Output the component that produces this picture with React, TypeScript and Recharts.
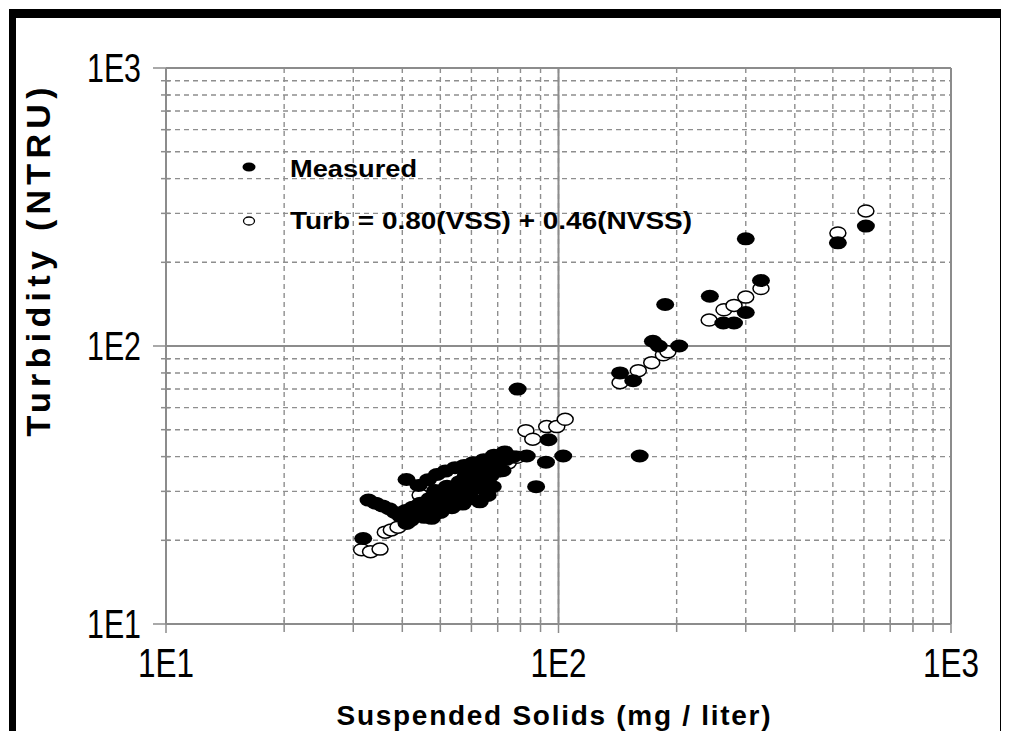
import React from 'react';
import { ScatterChart, Scatter, XAxis, YAxis, CartesianGrid, ReferenceLine, Legend } from 'recharts';

// measured turbidity vs suspended solids
const measuredSS = [
  31.8, 32.8, 34.2, 35.6, 37.0, 38.3, 39.6, 41.0, 40.8, 42.0, 42.5, 43.5, 44.5, 45.5, 46.0, 47.0,
  48.0, 48.5, 49.5, 50.5, 51.0, 52.0, 53.0, 54.0, 55.0, 56.0, 57.0, 58.0, 59.0, 60.0, 61.0, 62.0,
  63.0, 64.0, 65.0, 66.0, 67.0, 68.0, 69.0, 70.5, 72.0, 73.5, 76.6,
  44.0, 46.5, 49.0, 51.5, 54.5, 57.5, 60.5, 64.5, 68.5, 72.9,
  41.0, 47.5, 50.0, 53.5, 57.0, 60.0, 66.0,
  78.7, 83.0, 87.7, 92.9, 94.3,
  102.8, 143.5, 155, 161, 174, 180, 187, 203, 243, 263, 280, 300, 300, 328, 515, 607,
];
const measuredTurb = [
  20.3, 27.9, 27.2, 26.6, 26.0, 25.2, 24.4, 33.1, 25.6, 23.6, 26.3, 25.0, 27.2, 24.2, 26.6, 28.3,
  25.8, 30.2, 27.4, 29.2, 26.4, 31.3, 28.6, 30.4, 27.9, 32.5, 29.5, 34.0, 31.0, 33.2, 35.4, 30.8,
  27.5, 34.5, 32.6, 36.4, 34.0, 31.2, 36.8, 38.3, 35.6, 39.1, 40.0,
  31.5, 33.0, 34.5, 35.5, 36.5, 37.2, 38.0, 39.0, 40.5, 41.6,
  23.0, 24.0, 25.2, 26.2, 27.0, 28.3, 29.0,
  70.0, 40.2, 31.2, 38.2, 46.0,
  40.2, 80.0, 75.0, 40.2, 104, 100, 141, 100, 151, 121, 121, 243, 132, 172, 235, 270,
];

// Turb = 0.80(VSS) + 0.46(NVSS)
const modelSS = [
  31.5, 33.2, 35.1, 36.2, 37.5, 39.0, 44.4, 46.0, 49.0, 53.0, 57.0, 61.0, 65.0, 70.0, 74.5, 78.3,
  82.6, 86.0, 93.3, 99.0, 104, 143.5, 159.7, 172.8, 185, 190, 242, 264, 280, 300, 328, 515, 607,
];
const modelTurb = [
  18.5, 18.2, 18.6, 21.4, 21.8, 22.3, 29.1, 25.2, 27.6, 29.0, 30.5, 32.0, 33.5, 35.5, 38.0, 39.8,
  49.6, 46.2, 51.3, 51.3, 54.5, 73.8, 81.5, 87.1, 93.0, 95.3, 124, 135, 140, 150, 161, 255, 306,
];

const decades = [10, 100, 1000];
const decadeLabels = ['1E1', '1E2', '1E3'];
const logTicks = [
  10, 20, 30, 40, 50, 60, 70, 80, 90,
  100, 200, 300, 400, 500, 600, 700, 800, 900, 1000,
];

const measuredName = 'Measured';
const modelName = 'Turb = 0.80(VSS) + 0.46(NVSS)';

const measured = measuredSS.map((ss, i) => ({ ss, turb: measuredTurb[i] }));
const model = modelSS.map((ss, i) => ({ ss, turb: modelTurb[i] }));

const FONT = '"Liberation Sans", Arial, sans-serif';
const GRID = '#8e8e8e';
const AXIS = '#8c8c8c';

const FilledDot = (p: any) => <ellipse cx={p.cx} cy={p.cy} rx={9} ry={6.5} fill="#000" />;
const OpenDot = (p: any) => (
  <ellipse cx={p.cx} cy={p.cy} rx={8} ry={6} fill="#fff" stroke="#000" strokeWidth={1.5} />
);

const XTick = ({ x, y, payload }: any) => {
  const i = decades.indexOf(payload.value);
  const major = i >= 0;
  return (
    <g>
      <line x1={x} x2={x} y1={major ? y : y - 4} y2={y + (major ? 9 : 8)} stroke={AXIS} strokeWidth={1.5} />
      {major && (
        <text x={x} y={y + 53} textAnchor="middle" fontFamily={FONT} fontSize={40} fill="#000"
          textLength={56} lengthAdjust="spacingAndGlyphs">
          {decadeLabels[i]}
        </text>
      )}
    </g>
  );
};

const YTick = ({ x, y, payload }: any) => {
  const i = decades.indexOf(payload.value);
  const major = i >= 0;
  return (
    <g>
      <line x1={x - (major ? 13 : 5)} x2={major ? x : x + 4} y1={y} y2={y} stroke={AXIS} strokeWidth={1.5} />
      {major && (
        <text x={x - 25} y={y + 14} textAnchor="end" fontFamily={FONT} fontSize={40} fill="#000"
          textLength={54} lengthAdjust="spacingAndGlyphs">
          {decadeLabels[i]}
        </text>
      )}
    </g>
  );
};

const XTitle = ({ viewBox }: any) => (
  <text x={viewBox.x + viewBox.width / 2 - 5} y={viewBox.y + 101} textAnchor="middle"
    fontFamily={FONT} fontWeight="bold" fontSize={28} fill="#000" textLength={434} lengthAdjust="spacing">
    Suspended Solids (mg / liter)
  </text>
);

const YTitle = ({ viewBox }: any) => {
  const cx = viewBox.x - 16;
  const cy = viewBox.y + 194;
  return (
    <text x={cx} y={cy} transform={`rotate(-90 ${cx} ${cy})`} textAnchor="middle"
      fontFamily={FONT} fontWeight="bold" fontSize={34} fill="#000" textLength={349} lengthAdjust="spacing">
      Turbidity (NTRU)
    </text>
  );
};

const LegendBox = () => (
  <svg width={520} height={100}>
    <ellipse cx={20} cy={18} rx={6.5} ry={4.5} fill="#000" />
    <text x={61} y={28} fontFamily={FONT} fontWeight="bold" fontSize={23} fill="#000"
      textLength={127} lengthAdjust="spacingAndGlyphs">
      {measuredName}
    </text>
    <ellipse cx={20} cy={72} rx={5.5} ry={4} fill="#fff" stroke="#000" strokeWidth={1.3} />
    <text x={61} y={80} fontFamily={FONT} fontWeight="bold" fontSize={23} fill="#000"
      textLength={402} lengthAdjust="spacingAndGlyphs">
      {modelName}
    </text>
  </svg>
);

export default function App() {
  return (
    <div
      style={{
        position: 'relative', left: 1, top: 1, width: 1000, height: 723, boxSizing: 'border-box',
        borderTop: '9px solid #000', borderLeft: '7px solid #000', borderRight: '9px solid #000',
        background: '#fff',
      }}
    >
      <div style={{ position: 'absolute', left: -7, top: -9 }}>
        <ScatterChart width={1000} height={731} margin={{ top: 59, right: 58, bottom: 36, left: 57 }}>
          <CartesianGrid stroke={GRID} strokeDasharray="5 4" strokeWidth={1.4} />
          <XAxis type="number" dataKey="ss" scale="log" domain={[10, 1000]} allowDataOverflow
            ticks={logTicks} interval={0} tickSize={0} tickMargin={0} axisLine={false}
            tick={XTick} height={80} label={XTitle} />
          <YAxis type="number" dataKey="turb" scale="log" domain={[10, 1000]} allowDataOverflow
            ticks={logTicks} interval={0} tickSize={0} tickMargin={0} axisLine={false}
            tick={YTick} width={100} label={YTitle} />
          <ReferenceLine x={100} stroke={AXIS} strokeWidth={2} />
          <ReferenceLine y={100} stroke={AXIS} strokeWidth={2} />
          <ReferenceLine x={10} stroke={AXIS} strokeWidth={2} />
          <ReferenceLine x={1000} stroke={AXIS} strokeWidth={2} />
          <ReferenceLine y={10} stroke={AXIS} strokeWidth={2} />
          <ReferenceLine y={1000} stroke={AXIS} strokeWidth={2} />
          <Legend verticalAlign="middle" align="center" layout="horizontal"
            wrapperStyle={{ left: 220, top: 140, width: 520, height: 100 }} content={LegendBox} />
          <Scatter name={modelName} data={model} shape={OpenDot} isAnimationActive={false} />
          <Scatter name={measuredName} data={measured} shape={FilledDot} isAnimationActive={false} />
        </ScatterChart>
      </div>
    </div>
  );
}
